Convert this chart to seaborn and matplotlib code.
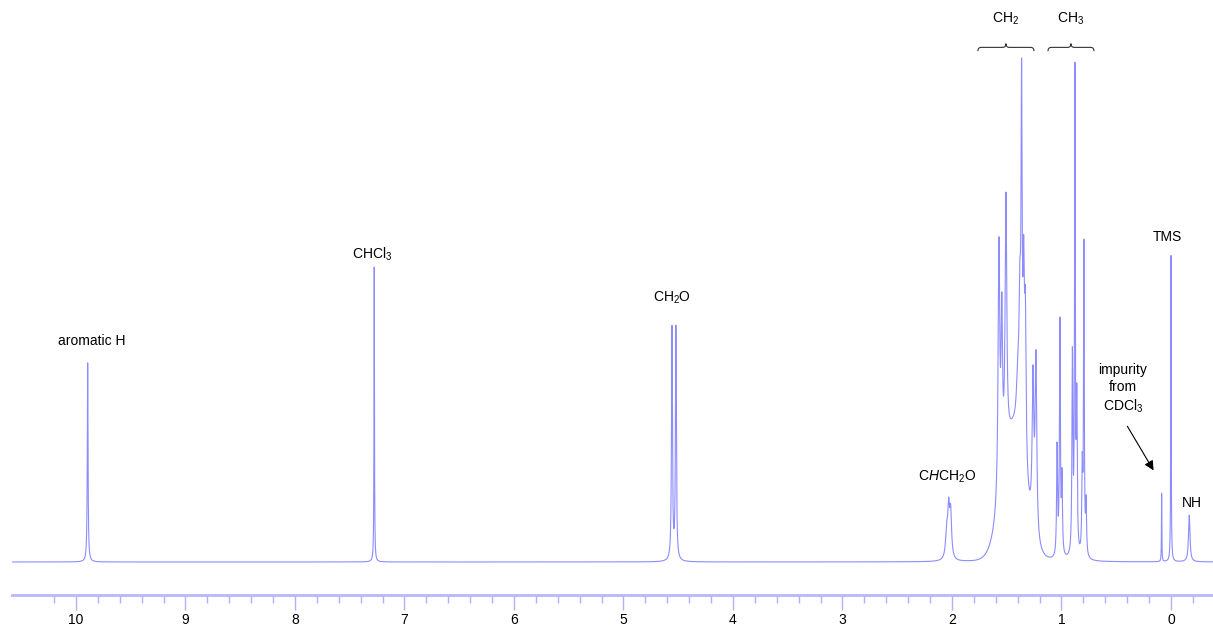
import numpy as np
import matplotlib
matplotlib.use("Agg")
import matplotlib.pyplot as plt
import seaborn as sns
from matplotlib.path import Path
from matplotlib.patches import PathPatch

# ---- data (chemical shift ppm, relative height %, half-width ppm)
peak_ppm = [9.893, 7.276, 4.557, 4.521, 2.048, 2.030, 2.012,
            1.571, 1.545, 1.507, 1.400, 1.380, 1.364, 1.345, 1.330, 1.260, 1.233,
            1.040, 1.014, 0.995, 0.900, 0.877, 0.860, 0.810, 0.795, 0.775,
            0.085, 0.000, -0.167]
peak_height = [39.5, 58.5, 47.0, 47.0, 8.0, 12.9, 11.5,
               64.5, 53.6, 73.4, 40.0, 60.0, 100.0, 65.0, 54.4, 39.1, 42.1,
               23.8, 48.6, 18.7, 42.7, 99.2, 35.5, 21.8, 64.1, 13.3,
               13.7, 60.9, 9.3]
peak_hwhm = [0.004, 0.0025, 0.005, 0.005, 0.012, 0.010, 0.010,
             0.009, 0.008, 0.009, 0.015, 0.010, 0.006, 0.008, 0.008, 0.009, 0.009,
             0.005, 0.005, 0.005, 0.005, 0.004, 0.005, 0.005, 0.004, 0.005,
             0.002, 0.0025, 0.008]

envelope_ppm = [1.44]
envelope_height = [25.0]
envelope_sigma = [0.10]

major_ticks = [0, 1, 2, 3, 4, 5, 6, 7, 8, 9, 10]
minor_ticks = [round(-0.2 + 0.2 * i, 1) for i in range(53)]

labels = [
    ("aromatic H", 9.854, 43.8),
    ("CHCl$_3$", 7.30, 61.1),
    ("CH$_2$O", 4.56, 52.4),
    ("C$\\mathit{H}$CH$_2$O", 2.046, 16.9),
    ("TMS", 0.037, 64.5),
    ("impurity\nfrom\nCDCl$_3$", 0.438, 34.3),
    ("NH", -0.192, 11.7),
]
brace_ranges = [(1.763, 1.251, "CH$_2$"), (1.123, 0.703, "CH$_3$")]

# ---- build spectrum from the peak list
ppm = np.linspace(10.584, -0.384, 22000)
pos = np.array(peak_ppm)
tgt = np.array(peak_height)
w = np.array(peak_hwhm)


def lor(x, c, g):
    return g ** 2 / ((x - c) ** 2 + g ** 2)


def env(x):
    out = np.zeros_like(x, dtype=float)
    for c, h, s in zip(envelope_ppm, envelope_height, envelope_sigma):
        out += h * np.exp(-0.5 * ((x - c) / s) ** 2)
    return out


amp = tgt.copy()
for _ in range(60):
    s_at = env(pos) + np.array([np.sum(amp * lor(p, pos, w)) for p in pos])
    amp = amp * tgt / s_at

spec = env(ppm)
for a, c, g in zip(amp, pos, w):
    spec = spec + a * lor(ppm, c, g)

# ---- plot
sns.set_style("white")
plt.rcParams["font.family"] = ["Liberation Sans", "DejaVu Sans"]
plt.rcParams["mathtext.fontset"] = "custom"
plt.rcParams["mathtext.rm"] = "Liberation Sans"
plt.rcParams["mathtext.it"] = "Liberation Sans:italic"
plt.rcParams["mathtext.default"] = "regular"

fig = plt.figure(figsize=(12.13, 6.28), dpi=100)
ax = fig.add_axes([12 / 1213, 33 / 628, 1201 / 1213, 595 / 628])
sns.lineplot(x=ppm, y=spec, ax=ax, color="#8c8cff", linewidth=0.8, estimator=None, sort=False)
ax.set_xlim(10.584, -0.384)
ax.set_ylim(-6.55, 111.5)

for sp in ["left", "top", "right"]:
    ax.spines[sp].set_visible(False)
ax.spines["bottom"].set_color("#b8b8ff")
ax.spines["bottom"].set_linewidth(2)
ax.set_yticks([])
ax.set_xticks(major_ticks)
ax.set_xticks(minor_ticks, minor=True)
ax.set_xticklabels([str(t) for t in major_ticks])
ax.tick_params(axis="x", which="both", bottom=True, top=False)
ax.tick_params(axis="x", which="major", direction="out", length=11, width=1,
               color="#b0b0ff", labelsize=10, labelcolor="black", pad=2)
ax.tick_params(axis="x", which="minor", direction="out", length=6, width=1, color="#b0b0ff")
ax.set_xlabel("")
ax.set_ylabel("")

for txt, x, y in labels:
    ax.text(x, y, txt, ha="center", va="center", fontsize=10, color="black", linespacing=1.3)

ax.annotate("", xy=(0.146, 17.7), xytext=(0.411, 27.4),
            arrowprops=dict(arrowstyle="-|>", color="black", lw=0.8, mutation_scale=14))

yb, dy = 102.1, 0.75
for a, b, txt in brace_ranges:
    s = 1 if b > a else -1
    dx = 0.03
    xm = (a + b) / 2
    verts = [(a, yb - dy), (a, yb), (a + s * dx, yb),
             (xm - s * dx, yb), (xm, yb), (xm, yb + dy),
             (xm, yb), (xm + s * dx, yb),
             (b - s * dx, yb), (b, yb), (b, yb - dy)]
    codes = [Path.MOVETO, Path.CURVE3, Path.CURVE3,
             Path.LINETO, Path.CURVE3, Path.CURVE3,
             Path.CURVE3, Path.CURVE3,
             Path.LINETO, Path.CURVE3, Path.CURVE3]
    ax.add_patch(PathPatch(Path(verts, codes), fill=False, color="#333333", lw=0.8))
    ax.text(xm, 107.7, txt, ha="center", va="center", fontsize=10, color="black")

fig.savefig("out.png", dpi=100)
